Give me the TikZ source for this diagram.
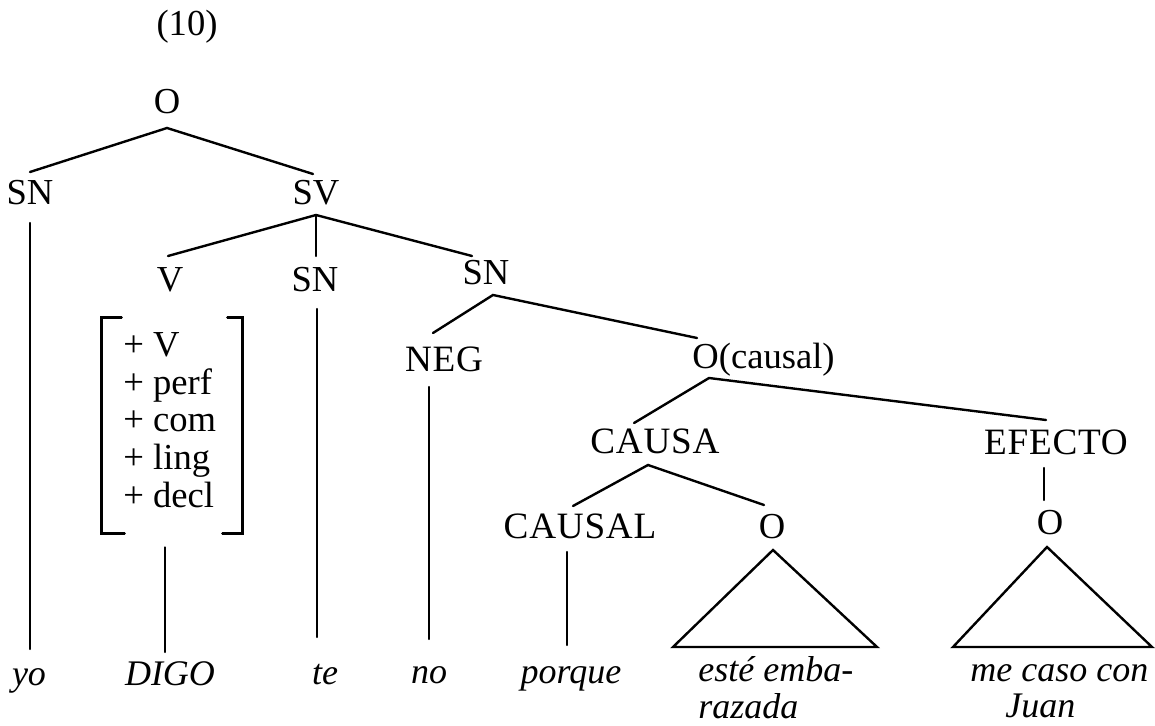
\documentclass[tikz,border=0pt]{standalone}
\usepackage{fontspec}
\setmainfont{Liberation Serif}
\newfontfamily\widecaps{Liberation Serif}[LetterSpace=2]
\begin{document}
\begin{tikzpicture}[x=0.5pt,y=-0.5pt,
  lab/.style={font=\fontsize{18.3}{21}\selectfont, inner sep=0pt, anchor=base, text height=11.5pt, text depth=0pt},
  caps/.style={lab, font=\fontsize{18.6}{21}\selectfont\widecaps},
  word/.style={lab, font=\fontsize{18}{21}\selectfont\itshape},
  edge/.style={line width=1.2pt, line cap=round, line join=miter}]
\useasboundingbox (0,0) rectangle (1155,726);
% labels
\node[lab] (num) at (187,36) {(10)};
\node[lab] (O) at (167,114) {O};
\node[lab] (SNa) at (30,205) {SN};
\node[lab] (SV) at (316,205) {SV};
\node[lab] (V) at (170,292) {V};
\node[lab] (SNb) at (315,292) {SN};
\node[lab] (SNc) at (486,285) {SN};
\node[caps] (NEG) at (444,372) {NEG};
\node[lab, anchor=base west] (Oc) at (692,369) {O(causal)};
\node[caps] (CAUSA) at (655,453) {CAUSA};
\node[caps] (EFECTO) at (1056,455) {EFECTO};
\node[caps] (CAUSAL) at (580,538) {CAUSAL};
\node[lab] (O1) at (772,538) {O};
\node[lab] (O2) at (1050,534) {O};
% features
\node[lab, anchor=base west] (f1) at (123,357) {+ V};
\node[lab, anchor=base west] (f2) at (123,395) {+ perf};
\node[lab, anchor=base west] (f3) at (123,432) {+ com};
\node[lab, anchor=base west] (f4) at (123,469) {+ ling};
\node[lab, anchor=base west] (f5) at (123,507) {+ decl};
\node[inner sep=0pt, minimum width=70pt, minimum height=107.5pt] (brk) at (172,425.5) {};
% words
\node[word] (yo) at (29,685) {yo};
\node[word] (DIGO) at (170,685) {DIGO};
\node[word] (te) at (325,684) {te};
\node[word] (no) at (429,683) {no};
\node[word] (porque) at (571,683) {porque};
\node[word, anchor=base west] (este) at (698,681) {esté emba-};
\node[word, anchor=base west] (razada) at (698,718) {razada};
\node[word, anchor=base west] (meCaso) at (970,681) {me caso con};
\node[word, anchor=base west] (Juan) at (1005,717) {Juan};
% connectors
\draw[edge] ([shift={(0,-33)}]SNa.base) -- ([shift={(0,14)}]O.base) -- ([shift={(-3,-31)}]SV.base);
\draw[edge] ([shift={(-2,-36)}]V.base) -- ([shift={(0,10)}]SV.base) -- ([shift={(-14,-29)}]SNc.base);
\draw[edge] ([shift={(0,10)}]SV.base) -- ([shift={(1,-36)}]SNb.base);
\draw[edge] ([shift={(0,18)}]SNa.base) -- ([shift={(1,-36)}]yo.base);
\draw[edge] ([shift={(-7,14)}]brk.south) -- ([shift={(-5,-33)}]DIGO.base);
\draw[edge] ([shift={(2,17)}]SNb.base) -- ([shift={(-8,-47)}]te.base);
\draw[edge] ([shift={(-11,-39)}]NEG.base) -- ([shift={(7,10)}]SNc.base) -- ([shift={(5,-31)}]Oc.base west);
\draw[edge] ([shift={(-15,15)}]NEG.base) -- ([shift={(0,-44)}]no.base);
\draw[edge] ([shift={(-21,-30)}]CAUSA.base) -- ([shift={(17,9)}]Oc.base west) -- ([shift={(-10,-35)}]EFECTO.base);
\draw[edge] ([shift={(-7,-32)}]CAUSAL.base) -- ([shift={(-7,12)}]CAUSA.base) -- ([shift={(-8,-33)}]O1.base);
\draw[edge] ([shift={(-12,13)}]EFECTO.base) -- ([shift={(-6,-34)}]O2.base);
\draw[edge] ([shift={(-13,14)}]CAUSAL.base) -- ([shift={(-4,-38)}]porque.base);
\draw[edge] ([shift={(1,12)}]O1.base) -- ([shift={(-99,109)}]O1.base) -- ([shift={(105,109)}]O1.base) -- cycle;
\draw[edge] ([shift={(-3,13)}]O2.base) -- ([shift={(-97,113)}]O2.base) -- ([shift={(102,113)}]O2.base) -- cycle;
% brackets
\draw[edge] ([shift={(20,0)}]brk.north west) -- (brk.north west) -- (brk.south west) -- ([shift={(23,0)}]brk.south west);
\draw[edge] ([shift={(-15,0)}]brk.north east) -- (brk.north east) -- (brk.south east) -- ([shift={(-20,0)}]brk.south east);
\end{tikzpicture}
\end{document}
